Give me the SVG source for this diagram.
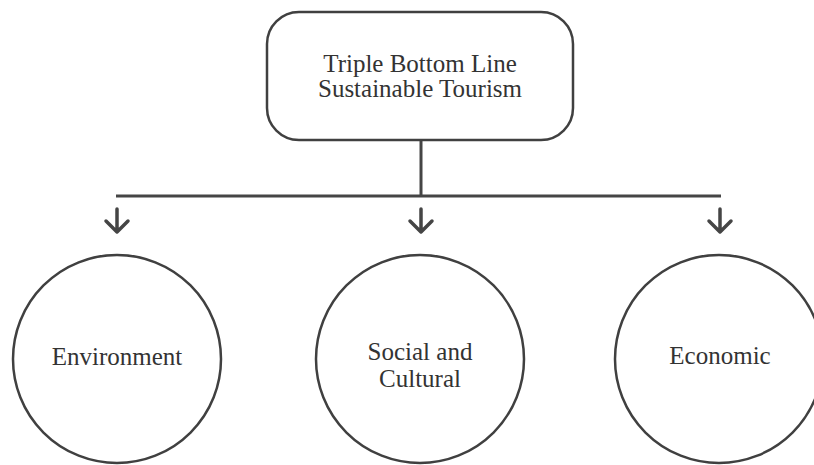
<svg xmlns="http://www.w3.org/2000/svg" width="814" height="465" viewBox="0 0 814 465">
<style>
.shape{fill:#fff;stroke:#404040;stroke-width:2.5}
.lbl{font-family:"Liberation Serif",serif;font-size:25px;fill:#333;text-anchor:middle}
.conn{fill:none;stroke:#454545;stroke-width:3}
.arr{fill:none;stroke:#454545;stroke-width:3.5;stroke-linecap:round;stroke-linejoin:round}
</style>
<rect width="814" height="465" fill="#fff"/>
<g id="connectors">
<line class="conn" x1="421" y1="140" x2="421" y2="196"/>
<line class="conn" x1="116" y1="196" x2="721" y2="196"/>
<g class="arr">
<path d="M117 209V232M106 221L117 232L128 221"/>
<path d="M421 209V232M410 221L421 232L432 221"/>
<path d="M720 209V232M709 221L720 232L731 221"/>
</g>
</g>
<g id="root">
<rect class="shape" x="267" y="12" width="306" height="128" rx="32"/>
<text class="lbl" x="420" y="72">Triple Bottom Line</text>
<text class="lbl" x="420" y="97">Sustainable Tourism</text>
</g>
<g id="environment">
<circle class="shape" cx="117" cy="359" r="104"/>
<text class="lbl" x="117" y="365">Environment</text>
</g>
<g id="social">
<circle class="shape" cx="420" cy="359" r="104"/>
<text class="lbl" x="420" y="360">Social and</text>
<text class="lbl" x="420" y="387">Cultural</text>
</g>
<g id="economic">
<circle class="shape" cx="719" cy="359" r="104"/>
<text class="lbl" x="720" y="364">Economic</text>
</g>
</svg>
